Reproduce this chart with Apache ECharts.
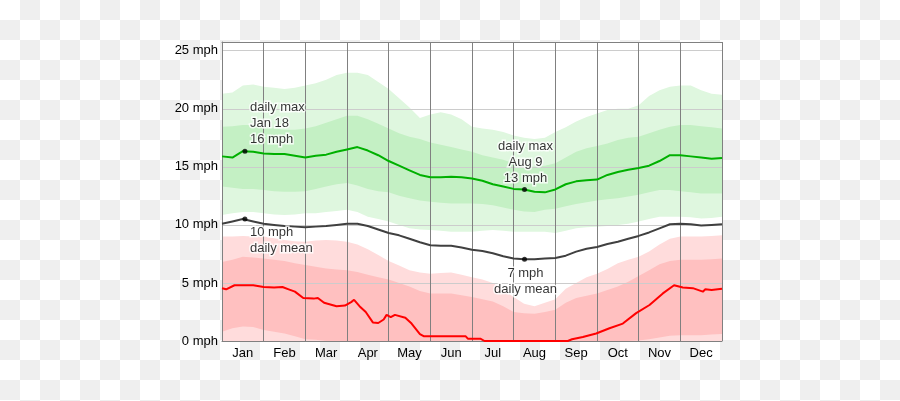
<!DOCTYPE html>
<html><head><meta charset="utf-8">
<script src="https://cdn.jsdelivr.net/npm/echarts@6/dist/echarts.min.js"></script>
<style>
html,body{margin:0;padding:0;}
body{width:900px;height:401px;background-color:#fff;background-image:conic-gradient(#efefef 0 25%, #fff 0 50%, #efefef 0 75%, #fff 0);background-size:40px 40px;}
#c{width:900px;height:401px;}
</style></head><body><div id="c"></div>
<script>
const months = ['Jan','Feb','Mar','Apr','May','Jun','Jul','Aug','Sep','Oct','Nov','Dec'];
const yTicks = [0,5,10,15,20,25];
// x positions in months from Jan 1 (0) to Dec 31 (12)
const xs = [0,0.25,0.5,0.75,1,1.25,1.5,1.75,2,2.25,2.5,2.75,3,3.25,3.5,3.75,4,4.25,4.5,4.75,5,5.25,5.5,5.75,6,6.25,6.5,6.75,7,7.25,7.5,7.75,8,8.25,8.5,8.75,9,9.25,9.5,9.75,10,10.25,10.5,10.75,11,11.25,11.5,11.75,12];
const maxOuterTop = [21.3,21.4,22.0,22.1,21.9,21.8,21.7,21.8,22.0,22.2,22.5,22.9,23.1,23.1,22.9,22.3,21.7,20.9,20.1,19.2,19.5,19.7,19.5,19.1,18.45,18.3,18.2,18.0,17.7,17.5,17.4,17.5,18.0,18.4,18.9,19.3,19.6,19.9,20.0,20.0,20.3,21.1,21.6,21.9,22.0,22.0,21.6,21.3,21.2];
const maxInnerTop = [18.45,18.5,18.6,18.6,18.45,18.3,18.2,18.2,18.3,18.5,18.8,19.1,19.4,19.4,19.1,18.7,18.3,17.9,17.6,17.4,17.1,16.9,16.7,16.5,16.3,16.0,15.8,15.6,15.3,15.1,15.0,15.1,15.3,15.8,16.3,16.6,16.8,17.0,17.3,17.5,17.6,17.9,18.2,18.45,18.6,18.6,18.5,18.4,18.3];
const maxInnerBottom = [13.3,13.2,13.1,13.1,13.0,12.9,12.85,12.85,12.9,13.1,13.3,13.5,13.6,13.4,13.1,12.9,12.8,12.5,12.3,12.1,12.0,11.9,11.85,11.85,11.85,11.8,11.7,11.5,11.3,11.15,11.1,11.3,11.4,11.6,11.8,11.95,12.1,12.2,12.3,12.45,12.6,12.8,13.0,13.0,12.9,12.8,12.7,12.7,12.7];
const maxOuterBottom = [10.85,11.0,11.1,11.1,11.0,10.9,10.85,10.9,11.0,11.0,11.1,11.2,11.3,11.1,10.7,10.5,10.3,10.0,9.7,9.6,9.55,9.5,9.4,9.4,9.4,9.5,9.55,9.5,9.4,9.4,9.4,9.4,9.3,9.5,9.7,9.8,9.85,9.9,10.0,10.1,10.3,10.5,10.7,10.7,10.7,10.65,10.55,10.6,10.7];
const dailyMax = [15.9,15.8,16.35,16.3,16.15,16.1,16.1,15.95,15.8,15.95,16.05,16.3,16.5,16.7,16.4,16.0,15.5,15.1,14.7,14.3,14.1,14.1,14.15,14.1,14.0,13.8,13.5,13.3,13.1,13.05,12.85,12.8,13.05,13.5,13.75,13.85,13.9,14.3,14.55,14.75,14.9,15.1,15.5,16.0,16.0,15.9,15.8,15.7,15.75];
const dailyMean = [10.1,10.3,10.5,10.3,10.1,10.0,9.9,9.85,9.8,9.85,9.9,10.0,10.1,10.1,9.9,9.6,9.3,9.1,8.8,8.5,8.25,8.2,8.2,8.05,7.85,7.75,7.55,7.3,7.1,7.05,7.05,7.1,7.15,7.35,7.7,7.95,8.1,8.35,8.55,8.8,9.05,9.35,9.7,10.05,10.1,10.05,9.95,10.0,10.05];
const minOuterTop = [9.0,9.0,9.05,9.0,9.0,8.85,8.7,8.6,8.55,8.65,8.7,8.65,8.55,8.3,7.9,7.4,6.9,6.5,6.1,5.9,5.8,5.85,5.9,5.7,5.5,5.3,5.0,4.4,3.8,3.2,3.0,3.3,3.6,4.5,5.0,5.5,5.8,6.2,6.7,7.0,7.25,7.7,8.3,8.8,9.0,9.0,9.0,9.05,9.1];
const minInnerTop = [6.8,7.0,7.25,7.2,7.1,7.0,6.9,6.7,6.55,6.4,6.25,6.15,6.1,5.95,5.7,5.5,5.3,5.0,4.7,4.3,4.1,4.1,4.1,3.95,3.8,3.6,3.4,3.0,2.5,2.4,2.35,2.5,2.7,3.3,3.7,3.9,4.1,4.4,4.7,5.1,5.6,6.1,6.6,6.9,7.0,7.0,7.0,7.05,7.1];
const minInnerBottom = [0.8,1.1,1.25,1.2,0.95,0.8,0.65,0.4,0.15,0.1,0,0,0,0,0,0,0,0,0,0,0,0,0,0,0,0,0,0,0,0,0,0,0,0,0,0,0,0,0,0,0.05,0.15,0.3,0.45,0.5,0.5,0.5,0.55,0.6];
const minX = [0,0.1,0.3,0.75,1.0,1.25,1.45,1.6,1.75,1.95,2.2,2.3,2.45,2.75,2.95,3.1,3.17,3.3,3.45,3.62,3.75,3.88,3.95,4.05,4.15,4.4,4.55,4.75,4.85,5.85,5.9,6.2,6.3,8.3,8.4,8.66,8.98,9.3,9.62,9.94,10.26,10.58,10.85,11.06,11.3,11.54,11.6,11.75,12];
const dailyMin = [4.55,4.45,4.8,4.8,4.65,4.6,4.65,4.45,4.25,3.7,3.65,3.7,3.3,3.0,3.05,3.35,3.55,3.0,2.5,1.6,1.55,1.85,2.25,2.05,2.25,2.0,1.5,0.6,0.4,0.4,0.2,0.2,0,0,0.15,0.35,0.65,1.1,1.5,2.4,3.1,4.1,4.8,4.6,4.55,4.25,4.45,4.4,4.5];
const annoX = [0.55, 0.55, 7.26, 7.26];
const annoY = [16.35, 10.5, 13.05, 7.05];
const annoText = ['daily max\nJan 18\n16 mph', '10 mph\ndaily mean', 'daily max\nAug 9\n13 mph', '7 mph\ndaily mean'];

const FONT = '"Liberation Sans", Arial, sans-serif';
const pairs = (x, y) => x.map((v, i) => [v, y[i]]);
function band(data, color) {
  return { type: 'line', data: pairs(xs, data), showSymbol: false, silent: true, z: 2,
    lineStyle: { width: 0 }, areaStyle: { color: color, opacity: 1, origin: 'start' } };
}
function line(x, data, color) {
  return { type: 'line', data: pairs(x, data), showSymbol: false, silent: true, z: 5,
    lineStyle: { width: 2, color: color }, itemStyle: { color: color } };
}
const labelStyles = [
  { position: 'top', align: 'left', distance: 1, offset: [5, 0] },
  { position: 'bottom', align: 'left', distance: 3, offset: [5, 0] },
  { position: 'top', align: 'center', distance: 1, offset: [1, 0] },
  { position: 'bottom', align: 'center', distance: 4, offset: [1, 0] }
];
const annoData = annoX.map((x, i) => ({
  value: [x, annoY[i]],
  label: Object.assign({ show: true, formatter: annoText[i], fontSize: 13, fontFamily: FONT,
    color: '#000', lineHeight: 16, textBorderColor: '#fff', textBorderWidth: 3 }, labelStyles[i])
}));

const chart = echarts.init(document.getElementById('c'), null, { renderer: 'canvas' });
chart.setOption({
  animation: false,
  backgroundColor: 'transparent',
  grid: { left: 222, right: 178, top: 42, bottom: 60, show: true, backgroundColor: '#fff', borderWidth: 0 },
  xAxis: [
    { type: 'value', min: 0, max: 12, interval: 1, z: 3,
      axisLine: { show: true, lineStyle: { color: '#808080', width: 1 } },
      axisTick: { show: false }, axisLabel: { show: false },
      splitLine: { show: true, lineStyle: { color: '#808080', width: 1 } } },
    { type: 'category', data: months, position: 'bottom', boundaryGap: true,
      axisLine: { show: false }, axisTick: { show: false }, splitLine: { show: false },
      axisLabel: { interval: 0, fontSize: 13, fontFamily: FONT, color: '#000', margin: 6 } },
    { type: 'value', min: 0, max: 12, position: 'top', z: 4,
      axisLine: { show: true, lineStyle: { color: '#808080', width: 1 } },
      axisTick: { show: false }, axisLabel: { show: false }, splitLine: { show: false } }
  ],
  yAxis: { type: 'value', min: 0, max: 25.75, interval: 5, z: 3,
    axisLine: { show: true, lineStyle: { color: '#808080' } }, axisTick: { show: false },
    axisLabel: { fontSize: 13, fontFamily: FONT, color: '#000', margin: 4,
      formatter: v => yTicks.indexOf(v) >= 0 ? v + ' mph' : '' },
    splitLine: { show: true, lineStyle: { color: '#cccccc', width: 1 } } },
  series: [
    band(maxOuterTop, '#dff7df'),
    band(maxInnerTop, '#c4f0c4'),
    band(maxInnerBottom, '#dff7df'),
    band(maxOuterBottom, '#ffffff'),
    band(minOuterTop, '#ffdcdc'),
    band(minInnerTop, '#ffc0c0'),
    band(minInnerBottom, '#ffdcdc'),
    line(xs, dailyMax, '#00b000'),
    line(xs, dailyMean, '#404040'),
    line(minX, dailyMin, '#ff0000'),
    { type: 'scatter', data: annoData, symbol: 'circle', symbolSize: 5, z: 6, silent: true,
      itemStyle: { color: '#000' } }
  ]
});
</script></body></html>
